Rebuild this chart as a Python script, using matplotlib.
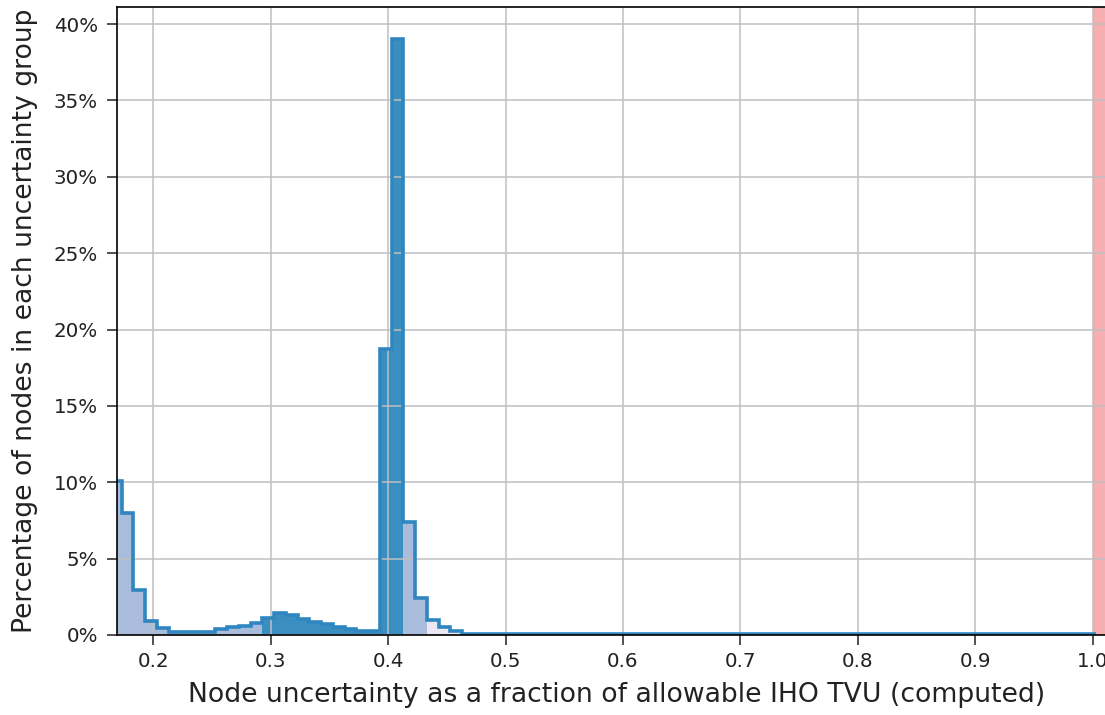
import matplotlib
matplotlib.use("Agg")
import matplotlib.pyplot as plt
from matplotlib.ticker import PercentFormatter, MultipleLocator
import numpy as np

# ---- data ----
bin_start = 0.1629
bin_width = 0.01
pct = [10.1, 8.0, 2.95, 0.9, 0.45, 0.22, 0.2, 0.2, 0.2, 0.42,
       0.55, 0.58, 0.8, 1.1, 1.42, 1.28, 1.05, 0.88, 0.72, 0.55,
       0.38, 0.28, 0.28, 18.7, 39.0, 7.4, 2.45, 1.0, 0.5, 0.25] + [0.07] * 54
groups = ["L"] * 13 + ["D"] * 12 + ["L"] * 2 + ["V"] * (len(pct) - 27)
xticks = [0.2, 0.3, 0.4, 0.5, 0.6, 0.7, 0.8, 0.9, 1.0]
xticklabels = ["0.2", "0.3", "0.4", "0.5", "0.6", "0.7", "0.8", "0.9", "1.0"]
limit = 1.0

xlabel = "Node uncertainty as a fraction of allowable IHO TVU (computed)"
ylabel = "Percentage of nodes in each uncertainty group"

# ---- style ----
plt.rcParams['font.family'] = ['DejaVu Sans']
group_colors = {"L": "#a9bcdb", "D": "#3a8fc0", "V": "#ece7f2"}
line_color = "#2f86c0"

edges = bin_start + bin_width * np.arange(len(pct) + 1)

fig = plt.figure(figsize=(11.05, 7.15), dpi=100)
ax = fig.add_axes([0.1062, 0.1119, 0.9038, 0.8779])

ax.bar(edges[:-1], pct, width=bin_width, align="edge",
       color=[group_colors[g] for g in groups], linewidth=0, zorder=1)
ax.stairs(pct, edges, baseline=None, fill=False, color=line_color,
          linewidth=2.6, zorder=2)
ax.axvspan(limit, 1.05, color="#f7aeb1", linewidth=0, zorder=1)

ax.set_xlim(0.1693, 1.02)
ax.set_ylim(0, 41.1)
ax.set_xticks(xticks)
ax.set_xticklabels(xticklabels)
ax.yaxis.set_major_locator(MultipleLocator(5))
ax.yaxis.set_major_formatter(PercentFormatter(decimals=0))
ax.grid(True, color="#c0c0c0", linewidth=1.1)
ax.tick_params(labelsize=14.3, length=7, width=1.1, colors="#222222")
ax.tick_params(axis="y", pad=7)
ax.tick_params(axis="x", pad=5)
for s in ax.spines.values():
    s.set_linewidth(1.2)
ax.set_xlabel(xlabel, fontsize=19.2, color="#222222", labelpad=8)
ax.set_ylabel(ylabel, fontsize=19.2, color="#222222", labelpad=11)

fig.savefig("out.png", dpi=100)
